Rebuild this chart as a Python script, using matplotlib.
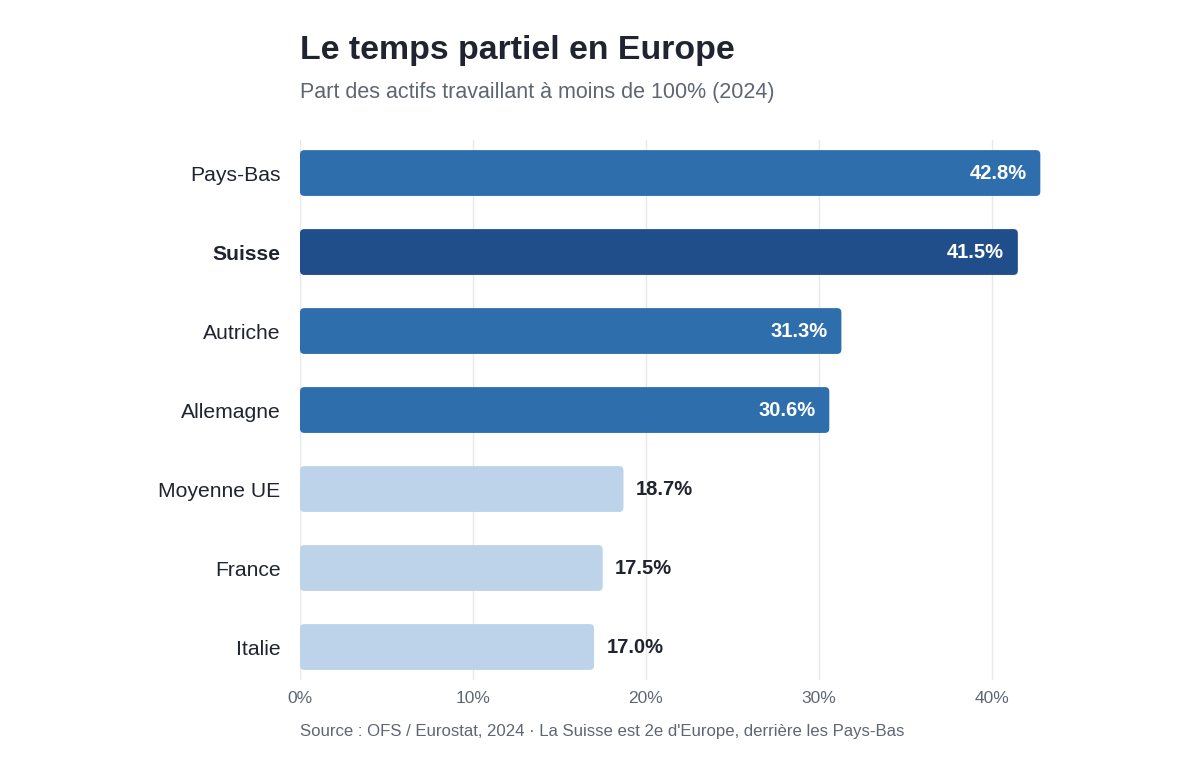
import matplotlib.pyplot as plt
from matplotlib.patches import FancyBboxPatch

plt.rcParams['font.family'] = ['Liberation Sans', 'DejaVu Sans']

# data
countries = ['Pays-Bas', 'Suisse', 'Autriche', 'Allemagne', 'Moyenne UE', 'France', 'Italie']
values = [42.8, 41.5, 31.3, 30.6, 18.7, 17.5, 17.0]
colors = ['#2E6EAD', '#1F4E8A', '#2E6EAD', '#2E6EAD', '#BDD3EA', '#BDD3EA', '#BDD3EA']
xticks = [0, 10, 20, 30, 40]

fig = plt.figure(figsize=(12, 7.6), dpi=100)
ax = fig.add_axes([0.25, 0.105, 0.64, 0.711])

xmax = 44.4
ax.set_xlim(0, xmax)
ax.set_ylim(len(countries) - 0.58, -0.42)

bar_h = 0.58
for i, (c, v, col) in enumerate(zip(countries, values, colors)):
    patch = FancyBboxPatch((0, i - bar_h / 2), v, bar_h,
                           boxstyle='round,pad=0,rounding_size=0.25',
                           mutation_aspect=0.22, fc=col, ec='none', zorder=3)
    ax.add_patch(patch)
    if v > 25:
        ax.annotate(f'{v:.1f}%', (v, i), xytext=(-10, 0), textcoords='offset points',
                    ha='right', va='center', color='white', fontsize=14.5,
                    fontweight='bold', zorder=4)
    else:
        ax.annotate(f'{v:.1f}%', (v, i), xytext=(9, 0), textcoords='offset points',
                    ha='left', va='center', color='#1F2430', fontsize=14.5,
                    fontweight='bold', zorder=4)

ax.set_yticks(range(len(countries)))
ax.set_yticklabels(countries, fontsize=15.2, color='#1F2430')
for lbl in ax.get_yticklabels():
    if lbl.get_text() == 'Suisse':
        lbl.set_fontweight('bold')

ax.set_xticks(xticks)
ax.set_xticklabels([f'{t}%' for t in xticks], fontsize=12.5, color='#5F6673')
ax.tick_params(axis='both', length=0)
ax.tick_params(axis='y', pad=14)
ax.tick_params(axis='x', pad=8)
ax.grid(axis='x', color='#E6E8EC', linewidth=1, zorder=0)
for s in ax.spines.values():
    s.set_visible(False)

fig.text(0.25, 0.934, 'Le temps partiel en Europe', fontsize=24.4, fontweight='bold',
         color='#1F2430', ha='left', va='center')
fig.text(0.25, 0.878, 'Part des actifs travaillant à moins de 100% (2024)', fontsize=15.5,
         color='#5F6673', ha='left', va='center')
fig.text(0.25, 0.038, "Source : OFS / Eurostat, 2024 · La Suisse est 2e d'Europe, derrière les Pays-Bas",
         fontsize=12.1, color='#5F6673', ha='left', va='center')

fig.savefig('out.png', dpi=100, facecolor='white')
